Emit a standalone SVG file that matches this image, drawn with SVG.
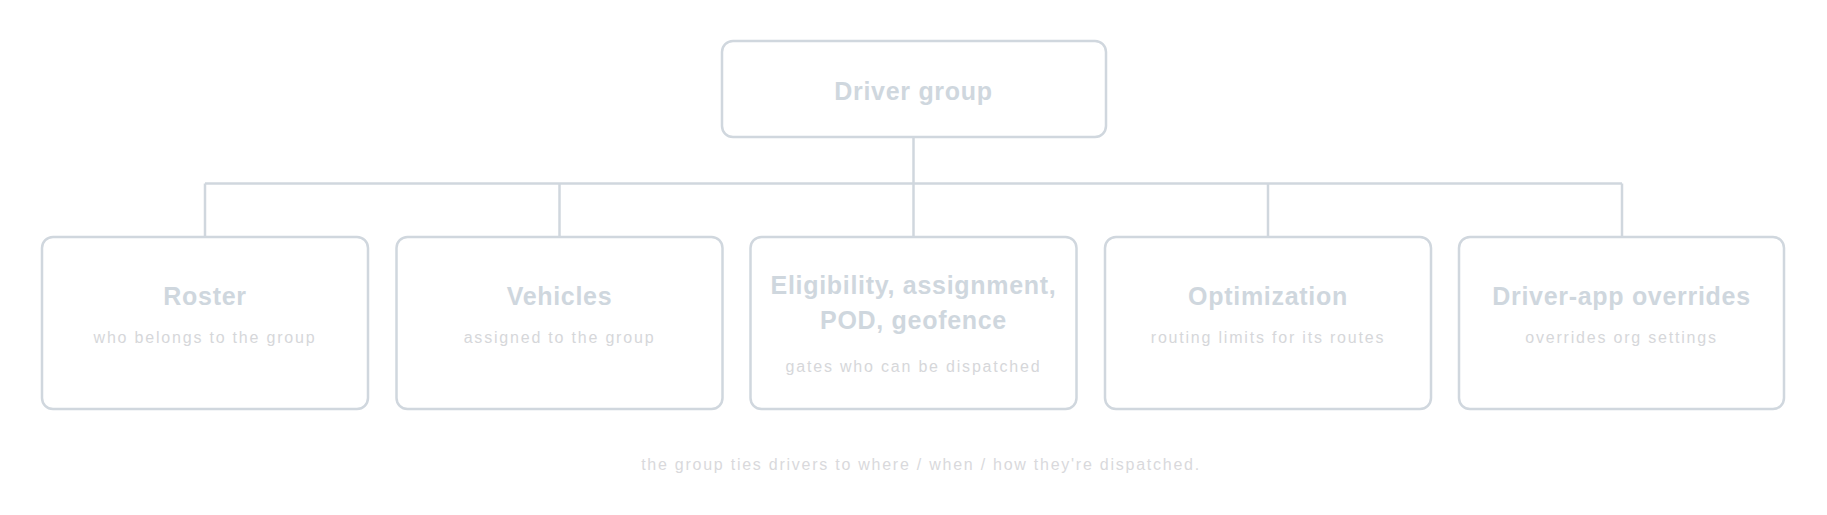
<svg xmlns="http://www.w3.org/2000/svg" width="1827" height="515" viewBox="0 0 1827 515">
<style>
.box{fill:#ffffff;stroke:#d0d7de;stroke-width:2.5}
.t{font-family:"Liberation Sans",Arial,sans-serif;font-weight:700;font-size:25px;fill:#cfd7de;text-anchor:middle;letter-spacing:0.7px}
.s{font-family:"Liberation Sans",Arial,sans-serif;font-weight:400;font-size:16px;fill:#d6d7da;text-anchor:middle;letter-spacing:1.8px}
.c{font-family:"Liberation Sans",Arial,sans-serif;font-weight:400;font-size:16px;fill:#d9d9dc;text-anchor:middle;letter-spacing:1.75px}
.ln{fill:none;stroke:#d0d7de;stroke-width:2.5}
</style>
<rect width="1827" height="515" fill="#ffffff"/>
<g id="connectors">
<path class="ln" d="M913.5 137 V183.5"/>
<path class="ln" d="M205 183.5 H1622"/>
<path class="ln" d="M205 183.5 V237"/>
<path class="ln" d="M559.5 183.5 V237"/>
<path class="ln" d="M913.5 183.5 V237"/>
<path class="ln" d="M1268 183.5 V237"/>
<path class="ln" d="M1622 183.5 V237"/>
</g>
<g id="node-driver-group">
<rect class="box" x="722" y="41" width="384" height="96" rx="11"/>
<text class="t" x="913.5" y="100">Driver group</text>
</g>
<g id="node-roster">
<rect class="box" x="42" y="237" width="326" height="172" rx="11"/>
<text class="t" x="205" y="305">Roster</text>
<text class="s" x="205" y="343">who belongs to the group</text>
</g>
<g id="node-vehicles">
<rect class="box" x="396.5" y="237" width="326" height="172" rx="11"/>
<text class="t" x="559.5" y="305">Vehicles</text>
<text class="s" x="559.5" y="343">assigned to the group</text>
</g>
<g id="node-eligibility">
<rect class="box" x="750.5" y="237" width="326" height="172" rx="11"/>
<text class="t" x="913.5" y="294">Eligibility, assignment,</text>
<text class="t" x="913.5" y="329">POD, geofence</text>
<text class="s" x="913.5" y="372">gates who can be dispatched</text>
</g>
<g id="node-optimization">
<rect class="box" x="1105" y="237" width="326" height="172" rx="11"/>
<text class="t" x="1268" y="305">Optimization</text>
<text class="s" x="1268" y="343">routing limits for its routes</text>
</g>
<g id="node-driver-app">
<rect class="box" x="1459" y="237" width="325" height="172" rx="11"/>
<text class="t" x="1621.5" y="305">Driver-app overrides</text>
<text class="s" x="1621.5" y="343">overrides org settings</text>
</g>
<text class="c" x="921" y="470">the group ties drivers to where / when / how they're dispatched.</text>
</svg>
